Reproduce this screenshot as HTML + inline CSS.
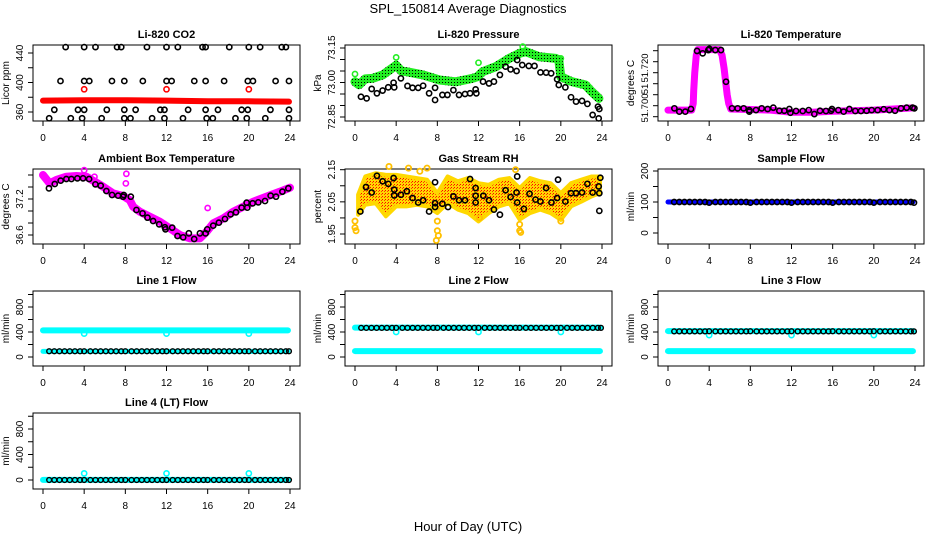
<!DOCTYPE html>
<html><head><meta charset="utf-8"><style>
html,body{margin:0;padding:0;background:#fff;}
svg{display:block;font-family:"Liberation Sans",sans-serif;}
</style></head><body>
<svg id="chart" width="936" height="540" viewBox="0 0 936 540" xmlns="http://www.w3.org/2000/svg">
<defs>
<pattern id="greenDots" width="3" height="3" patternUnits="userSpaceOnUse"><rect width="3" height="3" fill="#22ee22"/><rect x="1" y="1" width="1" height="1" fill="#000"/></pattern>
<pattern id="rhDots" width="3" height="3" patternUnits="userSpaceOnUse"><rect width="3" height="3" fill="#ffd800"/><rect x="1" y="1" width="1" height="1" fill="#ff0000"/><rect x="0" y="2" width="1" height="1" fill="#ff4000"/></pattern>
</defs>
<text x="468" y="13" text-anchor="middle" font-size="13">SPL_150814  Average Diagnostics</text>
<text x="468" y="531" text-anchor="middle" font-size="13">Hour of Day (UTC)</text>
</svg>
<script>
// ---------- data ----------
var xTicks = [0,4,8,12,16,20,24];
// CO2
var co2TopHours = [2.2,4,5.1,7.2,7.6,10.1,12,13.1,15.5,15.8,18.1,20,21.1,23.2,23.6];
var co2TopVals = [448,448,448,448,448,448,448,448,448,448,448,448,448,448,448];
var co2MidHours = [1.7,4,4.5,6.7,7.9,9.7,12,12.5,14.7,15.8,17.6,19.9,20.4,22.6,23.9];
var co2MidVals = [402,402,402,402,402,402,402,402,402,402,402,402,402,402,402];
var co2LowHours = [1.1,3.4,4,6.2,7.9,9,11.4,11.8,14.1,15.8,17,19.3,19.9,22.1,23.9];
var co2LowVals = [363,363,363,363,363,363,363,363,363,363,363,363,363,363,363];
var co2BotHours = [0.6,2.7,3.8,5.7,7.9,8.5,10.6,11.8,13.6,15.9,16.5,18.7,19.8,21.6,23.9];
var co2BotVals = [351.5,351.5,351.5,351.5,351.5,351.5,351.5,351.5,351.5,351.5,351.5,351.5,351.5,351.5,351.5];
var co2BandHours = [0,4,8,12,16,20,23.9];
var co2BandVals = [375.5,376,376,375.5,374.5,374.5,374];
var co2RedHours = [4,12,20];
var co2RedVals = [390.8,390.8,390.8];
// Pressure
var prBandHours = [0,0.4,1.0,1.7,2.7,3.6,4.0,4.5,5.0,6.6,8.2,9.8,11.4,11.9,12.4,13.7,15,16,16.6,17.9,19.5,19.8,20,21.1,22.4,23.0,23.7];
var prBandVals = [73.003,72.99,73.016,73.018,73.033,73.062,73.075,73.05,73.047,73.033,73.011,73.003,73.018,73.025,73.047,73.069,73.105,73.127,73.134,73.112,73.105,73.098,73.025,73.003,72.989,72.960,72.931];
var prOutHours = [0,4,12,16.3,20];
var prOutVals = [73.037,73.109,73.086,73.156,73.105];
var prHours = [0.58,1.13,1.62,2.13,2.68,3.23,3.75,3.81,4.46,5.1,5.59,6.14,6.62,7.2,7.78,7.78,8.49,8.98,9.56,10.11,10.69,11.18,11.72,11.79,12.44,13.02,13.5,14.08,14.63,15.12,15.7,15.76,16.25,16.89,17.44,18.02,18.57,19.06,19.64,19.8,20.44,20.99,21.48,22.06,22.58,23.09,23.61,23.74,23.68];
var prVals = [72.938,72.931,72.972,72.953,72.965,72.979,72.999,72.979,73.018,72.985,72.977,72.977,72.986,72.953,72.977,72.924,72.946,72.946,72.967,72.946,72.950,72.953,72.970,72.953,73.004,72.996,73.004,73.033,73.069,73.057,73.050,73.098,73.076,73.072,73.072,73.044,73.043,73.040,73.014,72.989,72.979,72.936,72.917,72.920,72.907,72.859,72.895,72.885,72.844];
// Li-820 temperature
var ltBandHours = [0,2.3,2.45,2.5,2.6,2.75,2.9,5.0,5.25,5.45,5.6,5.75,5.9,6.1,10,12,14,16,20,23.8];
var ltBandVals = [51.703,51.703,51.706,51.712,51.720,51.728,51.7305,51.7305,51.728,51.722,51.716,51.710,51.706,51.7035,51.703,51.702,51.702,51.7025,51.703,51.704];
var ltHours = [0.62,1.10,1.68,2.23,2.82,3.37,3.92,4.02,4.6,5.15,5.64,6.22,6.77,7.35,7.9,7.9,8.55,9.1,9.68,10.23,10.82,11.3,11.79,11.89,12.44,13.09,13.67,14.22,14.77,15.35,15.84,15.93,16.55,17.07,17.62,18.2,18.75,19.3,19.79,20.37,20.96,21.51,22.06,22.64,23.19,23.77,23.94];
var ltVals = [51.7038,51.7023,51.7023,51.7035,51.7299,51.7288,51.7303,51.7308,51.7303,51.7303,51.7159,51.7038,51.7038,51.7038,51.7030,51.7023,51.7030,51.7038,51.7035,51.7041,51.7027,51.7027,51.7035,51.7018,51.7026,51.7026,51.7030,51.7012,51.7027,51.7026,51.7027,51.7035,51.7030,51.7023,51.7035,51.7026,51.7026,51.7027,51.7030,51.7030,51.7034,51.7030,51.7027,51.7038,51.7041,51.7041,51.7038];
// Ambient box temperature
var abBandHours = [0,0.65,1.3,2.27,3.24,4.22,5.03,5.84,6.81,7.78,8.43,8.76,9.41,10.38,11.35,12.33,13.3,14.27,15.25,15.89,16.54,17.52,18.49,19.46,20.43,21.73,23.03,24];
var abBandVals = [37.6,37.461,37.517,37.572,37.583,37.572,37.489,37.405,37.295,37.25,37.183,37.072,36.989,36.905,36.822,36.711,36.6,36.544,36.544,36.655,36.794,36.878,36.989,37.072,37.155,37.239,37.322,37.389];
var abOutHours = [0.05,4,5,8.1,8.05,16];
var abOutVals = [37.6,37.68,37.57,37.62,37.46,37.05];
var abHours = [0.58,1.14,1.72,2.27,2.76,3.34,3.89,4.48,5.09,5.61,6.16,6.71,7.3,7.78,7.85,8.53,9.08,9.67,10.15,10.7,11.29,11.84,11.9,12.55,13.07,13.62,14.17,14.69,15.25,15.8,15.96,16.54,17.09,17.68,18.23,18.75,19.3,19.79,19.85,20.37,20.92,21.57,22.12,22.64,23.26,23.84];
var abVals = [37.378,37.45,37.506,37.533,37.533,37.544,37.544,37.533,37.444,37.422,37.333,37.267,37.256,37.239,37.267,37.239,37.017,36.961,36.889,36.833,36.778,36.728,36.694,36.722,36.583,36.561,36.628,36.533,36.628,36.628,36.694,36.756,36.806,36.867,36.944,36.978,37.056,37.139,37.056,37.128,37.144,37.167,37.256,37.239,37.322,37.378];
// Gas stream RH
var rhBandHours = [0.3,1,2,3,4,5,6,7,8,9,10,11,12,13,14,15,16,17,18,19,20,21,22,23,23.8];
var rhUpper = [2.072,2.129,2.139,2.134,2.134,2.129,2.124,2.119,2.077,2.129,2.114,2.124,2.108,2.103,2.119,2.124,2.093,2.124,2.114,2.108,2.077,2.108,2.119,2.129,2.129];
var rhLower = [2.010,2.041,2.046,2.005,2.036,2.036,2.041,2.036,2.015,2.046,2.026,2.015,1.989,2.015,2.036,2.046,1.995,2.015,2.026,2.015,1.994,2.036,2.051,2.067,2.077];
var rhOutHours = [0,0,0.1,8,8,7.9,8.1,16,16,16.1,3.3,5.2,6.3,7,15.6,20,12.1];
var rhOutVals = [1.99,1.97,1.96,1.99,1.96,1.93,1.945,1.98,1.96,1.955,2.16,2.155,2.145,2.155,2.15,1.99,2.0];
var rhHours = [0.52,1.07,1.62,2.13,2.68,3.23,3.75,3.81,3.81,4.46,5.04,5.59,6.14,6.62,7.2,7.78,7.78,7.78,8.49,9.04,9.56,10.11,10.69,11.18,11.72,11.72,11.72,12.47,13.02,13.5,14.08,14.63,15.12,15.7,15.76,15.76,16.41,16.96,17.54,18.02,18.57,19.09,19.64,19.73,20.44,20.99,21.48,22.06,22.58,23.09,23.68,23.74,23.74,23.84];
var rhVals = [2.020,2.096,2.079,2.131,2.114,2.106,2.124,2.070,2.088,2.072,2.083,2.062,2.048,2.055,2.020,2.111,2.046,2.034,2.044,2.034,2.067,2.055,2.055,2.121,2.093,2.069,2.048,2.069,2.055,2.026,2.010,2.086,2.065,2.079,2.129,2.048,2.028,2.075,2.057,2.051,2.093,2.048,2.062,2.119,2.051,2.077,2.077,2.079,2.106,2.079,2.098,2.077,2.022,2.125];
// Flows: shared hourly-average times
var flowHours = [0.6,1.1,1.6,2.1,2.6,3.1,3.6,4.0,4.6,5.1,5.6,6.1,6.6,7.1,7.6,8.0,8.6,9.1,9.6,10.1,10.6,11.1,11.6,12.0,12.6,13.1,13.6,14.1,14.6,15.1,15.6,16.0,16.6,17.1,17.6,18.1,18.6,19.1,19.6,20.0,20.6,21.1,21.6,22.1,22.6,23.1,23.6,23.9];
var bandHours = [0,23.8];
var sampleBandVals = [100,100];
var sampleVals = [100,100,100,100,100,100,100,98,100,100,100,100,100,100,100,98,100,100,100,100,100,100,100,98,100,100,100,100,100,100,100,98,100,100,100,100,100,100,100,98,100,100,100,100,100,100,100,98];
var line1Upper = [426,426];
var line1Lower = [90,90];
var line1Vals = [92,92,92,92,92,92,92,92,92,92,92,92,92,92,92,92,92,92,92,92,92,92,92,92,92,92,92,92,92,92,92,92,92,92,92,92,92,92,92,92,92,92,92,92,92,92,92,92];
var line1OutHours = [4,12,20];
var line1OutVals = [374,374,374];
var line2Upper = [470,470];
var line2Lower = [95,95];
var line2Vals = [466,466,466,466,466,466,466,466,466,466,466,466,466,466,466,466,466,466,466,466,466,466,466,466,466,466,466,466,466,466,466,466,466,466,466,466,466,466,466,466,466,466,466,466,466,466,466,466];
var line2OutHours = [4,12,20];
var line2OutVals = [400,400,400];
var line3Upper = [415,415];
var line3Lower = [95,95];
var line3Vals = [410,410,410,410,410,410,410,412,410,410,410,410,410,410,410,412,410,410,410,410,410,410,410,412,410,410,410,410,410,410,410,412,410,410,410,410,410,410,410,412,410,410,410,410,410,410,410,410];
var line3OutHours = [4,12,20];
var line3OutVals = [350,350,350];
var line4Band = [2,2];
var line4Vals = [0,0,0,0,0,0,0,0,0,0,0,0,0,0,0,0,0,0,0,0,0,0,0,0,0,0,0,0,0,0,0,0,0,0,0,0,0,0,0,0,0,0,0,0,0,0,0,0];
var line4OutHours = [4,12,20];
var line4OutVals = [103,103,103];

// ---------- drawing ----------
var NS = "http://www.w3.org/2000/svg";
var svg = document.getElementById("chart");
var colLeft = [33,345,658], colRight = [300,612,924];
var rowTop = [45,169,291,413], rowBot = [121,244,366,489];
function mk(tag, parent){ var e = document.createElementNS(NS, tag); parent.appendChild(e); return e; }
function xScale(col){ var x0 = colLeft[col]+10; return function(h){ return x0 + h/24*247; }; }
function yScale(v0,p0,v1,p1){ return function(v){ return p0 + (v-v0)/(v1-v0)*(p1-p0); }; }

function panel(name, col, row, title, ylab, ys, ticks, labels, labelPos, labelSize){
  var g = mk("g", svg);
  
  
  var L = colLeft[col], R = colRight[col], T = rowTop[row], B = rowBot[row];
  var xs = xScale(col);
  var t = mk("text", g);
  
  
  t.setAttribute("x", (L+R)/2); t.setAttribute("y", T-7); t.setAttribute("text-anchor","middle");
  t.setAttribute("font-size","11"); t.setAttribute("font-weight","bold"); t.textContent = title;
  var yl = mk("text", g);
  
  
  var cy = (T+B)/2;
  yl.setAttribute("transform","translate("+(L-24)+","+cy+") rotate(-90)");
  yl.setAttribute("text-anchor","middle"); yl.setAttribute("font-size","10"); yl.textContent = ylab;
  var xa = mk("g", g);
  
  
  xTicks.forEach(function(h){
    var x = xs(h);
    var l = mk("line", xa); l.setAttribute("x1",x); l.setAttribute("x2",x); l.setAttribute("y1",B); l.setAttribute("y2",B+5); l.setAttribute("stroke","#000");
    var tx = mk("text", xa);
    
    
    tx.setAttribute("x",x); tx.setAttribute("y",B+20); tx.setAttribute("text-anchor","middle"); tx.setAttribute("font-size","10"); tx.textContent = h;
  });
  var ya = mk("g", g);
  
  
  var yTop = ys(ticks[ticks.length-1]), yBot = ys(ticks[0]);
  var al = mk("line", ya); al.setAttribute("x1",L); al.setAttribute("x2",L); al.setAttribute("y1",yTop); al.setAttribute("y2",yBot); al.setAttribute("stroke","#000");
  ticks.forEach(function(v){
    var y = ys(v);
    var l = mk("line", ya); l.setAttribute("x1",L-5); l.setAttribute("x2",L); l.setAttribute("y1",y); l.setAttribute("y2",y); l.setAttribute("stroke","#000");
  });
  labels.forEach(function(lb,i){
    var y = labelPos ? labelPos[i] : ys(parseFloat(lb));
    var tx = mk("text", ya);
    
    
    tx.setAttribute("transform","translate("+(L-10)+","+y+") rotate(-90)");
    tx.setAttribute("text-anchor","middle"); tx.setAttribute("font-size", labelSize || "10"); tx.textContent = lb;
  });
  var box = mk("rect", g);
  
  
  box.setAttribute("x",L); box.setAttribute("y",T); box.setAttribute("width",R-L); box.setAttribute("height",B-T);
  box.setAttribute("fill","none"); box.setAttribute("stroke","#000");
  var plot = mk("g", g);
  
  
  return {g:plot, xs:xs, ys:ys};
}
function circles(p, hrs, vals, color, name, r, sw){
  hrs.forEach(function(h,i){
    var c = mk("circle", p.g);
    
    
    c.setAttribute("cx", p.xs(h)); c.setAttribute("cy", p.ys(vals[i]));
    c.setAttribute("r", r||2.6); c.setAttribute("fill","none"); c.setAttribute("stroke",color); c.setAttribute("stroke-width", sw||1.6);
  });
}
function band(p, hrs, vals, color, width, name){
  var pts = hrs.map(function(h,i){ return p.xs(h)+","+p.ys(vals[i]); }).join(" ");
  var pl = mk("polyline", p.g);
  
  
  pl.setAttribute("points", pts); pl.setAttribute("fill","none"); pl.setAttribute("stroke",color);
  pl.setAttribute("stroke-width", width); pl.setAttribute("stroke-linejoin","round"); pl.setAttribute("stroke-linecap","round");
}
function area(p, hrs, up, lo, fill, name){
  var a = hrs.map(function(h,i){ return p.xs(h)+","+p.ys(up[i]); });
  var b = hrs.slice().reverse().map(function(h,j){ var i = hrs.length-1-j; return p.xs(h)+","+p.ys(lo[i]); });
  var pg = mk("polygon", p.g);
  
  
  pg.setAttribute("points", a.concat(b).join(" ")); pg.setAttribute("fill", fill);
  pg.setAttribute("stroke", "#ffd800"); pg.setAttribute("stroke-width","4"); pg.setAttribute("stroke-linejoin","round");
}

var p = panel("co2",0,0,"Li-820 CO2","Licor ppm", yScale(360,112,440,53), [360,380,400,420,440], ["360","400","440"]);
band(p, co2BandHours, co2BandVals, "#ff0000", 6, "co2-raw-band");
circles(p, co2RedHours, co2RedVals, "#ff0000", "co2-raw-outlier");
circles(p, co2TopHours, co2TopVals, "#000", "co2-average-point");
circles(p, co2MidHours, co2MidVals, "#000", "co2-average-point");
circles(p, co2LowHours, co2LowVals, "#000", "co2-average-point");
circles(p, co2BotHours, co2BotVals, "#000", "co2-average-point");

p = panel("pressure",1,0,"Li-820 Pressure","kPa", yScale(72.85,117,73.15,48), [72.85,72.90,72.95,73.00,73.05,73.10,73.15], ["72.85","73.00","73.15"]);
band(p, prBandHours, prBandVals, "url(#greenDots)", 9, "pressure-raw-band");
circles(p, prOutHours, prOutVals, "#22ee22", "pressure-raw-outlier");
circles(p, prHours, prVals, "#000", "pressure-average-point");

p = panel("licor-temp",2,0,"Li-820 Temperature","degrees C", yScale(51.700,116.7,51.730,50.7), [51.700,51.705,51.710,51.715,51.720,51.725,51.730], ["51.700","51","51.720"], [108,89,68], "9.5");
band(p, ltBandHours, ltBandVals, "#ff00ff", 7, "licor-temp-raw-band");
circles(p, ltHours, ltVals, "#000", "licor-temp-average-point");

p = panel("ambient-temp",0,1,"Ambient Box Temperature","degrees C", yScale(36.6,235,37.2,199), [36.6,36.8,37.0,37.2,37.4,37.6], ["36.6","37.2"]);
band(p, abBandHours, abBandVals, "#ff00ff", 8, "ambient-temp-raw-band");
circles(p, abOutHours, abOutVals, "#ff00ff", "ambient-temp-raw-outlier");
circles(p, abHours, abVals, "#000", "ambient-temp-average-point");

p = panel("gas-rh",1,1,"Gas Stream RH","percent", yScale(1.95,234,2.15,169.7), [1.95,2.00,2.05,2.10,2.15], ["1.95","2.05","2.15"]);
area(p, rhBandHours, rhUpper, rhLower, "url(#rhDots)", "rh-raw-band");
circles(p, rhOutHours, rhOutVals, "#ffc000", "rh-raw-outlier", 2.6, 1.8);
circles(p, rhHours, rhVals, "#000", "rh-average-point");

p = panel("sample-flow",2,1,"Sample Flow","ml/min", yScale(0,233,200,171), [0,50,100,150,200], ["0","100","200"]);
band(p, bandHours, sampleBandVals, "#0000ff", 5, "sample-flow-raw-band");
circles(p, flowHours, sampleVals, "#000", "sample-flow-average-point");

p = panel("line1-flow",0,2,"Line 1 Flow","ml/min", yScale(0,357,800,307), [0,200,400,600,800,1000], ["0","400","800"]);
band(p, bandHours, line1Upper, "#00ffff", 6, "line1-raw-band-high");
band(p, bandHours, line1Lower, "#00ffff", 5, "line1-raw-band-low");
circles(p, line1OutHours, line1OutVals, "#00ffff", "line1-raw-outlier");
circles(p, flowHours, line1Vals, "#000", "line1-average-point", 2.4, 1.4);

p = panel("line2-flow",1,2,"Line 2 Flow","ml/min", yScale(0,357,800,307), [0,200,400,600,800,1000], ["0","400","800"]);
band(p, bandHours, line2Upper, "#00ffff", 6, "line2-raw-band-high");
band(p, bandHours, line2Lower, "#00ffff", 6, "line2-raw-band-low");
circles(p, line2OutHours, line2OutVals, "#00ffff", "line2-raw-outlier");
circles(p, flowHours, line2Vals, "#000", "line2-average-point", 2.4, 1.4);

p = panel("line3-flow",2,2,"Line 3 Flow","ml/min", yScale(0,357,800,307), [0,200,400,600,800,1000], ["0","400","800"]);
band(p, bandHours, line3Upper, "#00ffff", 6, "line3-raw-band-high");
band(p, bandHours, line3Lower, "#00ffff", 6, "line3-raw-band-low");
circles(p, line3OutHours, line3OutVals, "#00ffff", "line3-raw-outlier");
circles(p, flowHours, line3Vals, "#000", "line3-average-point", 2.4, 1.4);

p = panel("line4-flow",0,3,"Line 4 (LT) Flow","ml/min", yScale(0,480,800,429), [0,200,400,600,800,1000], ["0","400","800"]);
band(p, bandHours, line4Band, "#00ffff", 6, "line4-raw-band");
circles(p, line4OutHours, line4OutVals, "#00ffff", "line4-raw-outlier");
circles(p, flowHours, line4Vals, "#000", "line4-average-point", 2.4, 1.4);
</script>
</body></html>
